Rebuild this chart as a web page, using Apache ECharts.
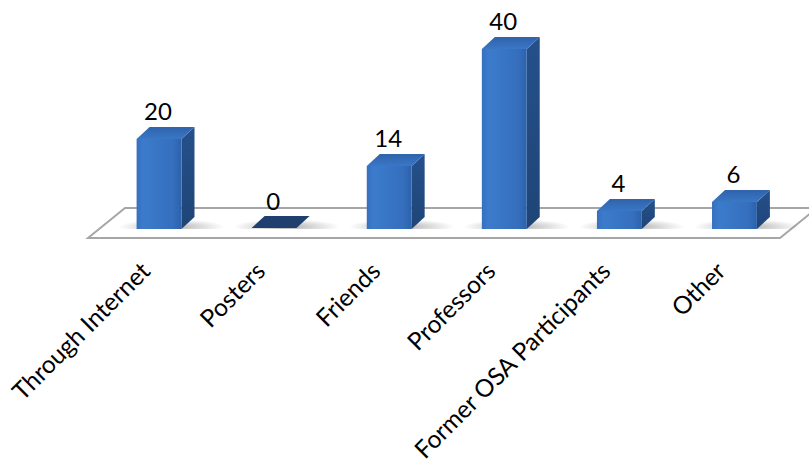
<!DOCTYPE html>
<html>
<head>
<meta charset="utf-8">
<script src="https://cdn.jsdelivr.net/npm/echarts@6/dist/echarts.min.js"></script>
<style>
html,body{margin:0;padding:0;background:#fff;}
#chart{width:809px;height:461px;}
</style>
</head>
<body>
<div id="chart"></div>
<script>
var categories = ['Through Internet', 'Posters', 'Friends', 'Professors', 'Former OSA Participants', 'Other'];
var values = [20, 0, 14, 40, 4, 6];

var DX = 13, DY = -12;
var FONT = 'Lato, "Open Sans", sans-serif';

function renderFloor(params, api) {
  var cs = params.coordSys;
  var x0 = cs.x, x1 = cs.x + cs.width, base = cs.y + cs.height;
  return {
    type: 'polygon',
    shape: { points: [[x0 - 13.5, base + 9], [x0 + 23.5, base - 21], [x1 + 25, base - 21], [x1 - 12, base + 9]] },
    style: { fill: '#ffffff', stroke: '#a6a6a6', lineWidth: 2 }
  };
}

function renderBar(params, api) {
  var idx = api.value(0), val = api.value(1);
  var p0 = api.coord([idx, 0]);
  var p1 = api.coord([idx, val]);
  var w = api.size([1, 0])[0] * 0.39;
  var x = p0[0] - w / 2, base = p0[1], top = p1[1];
  var children = [];
  children.push({
    type: 'rect',
    shape: { x: x - 18, y: base - 15, width: w + DX + 48, height: 15 },
    style: {
      fill: {
        type: 'radial', x: 0.5, y: 0.85, r: 0.5,
        colorStops: [{ offset: 0, color: 'rgba(0,0,0,0.32)' }, { offset: 1, color: 'rgba(0,0,0,0)' }]
      }
    }
  });
  if (val > 0) {
    children.push({
      type: 'polygon',
      shape: { points: [[x + w, base], [x + w, top], [x + w + DX, top + DY], [x + w + DX, base + DY]] },
      style: {
        fill: { type: 'linear', x: 0, y: 0, x2: 0, y2: 1,
          colorStops: [{ offset: 0, color: '#25508a' }, { offset: 1, color: '#1f4577' }] }
      }
    });
    children.push({
      type: 'rect',
      shape: { x: x, y: top, width: w, height: base - top },
      style: {
        fill: { type: 'linear', x: 0, y: 0, x2: 1, y2: 0,
          colorStops: [{ offset: 0, color: '#3670bf' }, { offset: 0.15, color: '#3c7bcc' }, { offset: 0.8, color: '#356fbe' }, { offset: 1, color: '#2d62ab' }] }
      }
    });
    children.push({
      type: 'polygon',
      shape: { points: [[x, top], [x + w, top], [x + w + DX, top + DY], [x + DX, top + DY]] },
      style: {
        fill: { type: 'linear', x: 0, y: 1, x2: 0, y2: 0,
          colorStops: [{ offset: 0, color: '#3a77c6' }, { offset: 1, color: '#2f63ab' }] }
      }
    });
  } else {
    children.push({
      type: 'polygon',
      shape: { points: [[x, base - 1], [x + w, base - 1], [x + w + DX, base - 1 + DY], [x + DX, base - 1 + DY]] },
      style: { fill: '#1f3f6e' }
    });
  }
  // value label
  children.push({
    type: 'text',
    style: {
      text: String(val), x: p0[0] - 1, y: top - 29,
      align: 'center', verticalAlign: 'middle',
      font: '24px ' + FONT, fill: '#000000'
    }
  });
  // category label (rotated 45°)
  children.push({
    type: 'text',
    x: p0[0] - 14, y: base + 37,
    rotation: Math.PI / 4,
    style: {
      text: categories[idx], x: 0, y: 0,
      align: 'right', verticalAlign: 'middle',
      font: '24.5px ' + FONT, fill: '#000000'
    }
  });
  return { type: 'group', children: children };
}

var chart = echarts.init(document.getElementById('chart'), null, { renderer: 'svg' });
chart.setOption({
  animation: false,
  backgroundColor: '#ffffff',
  grid: { left: 101.5, right: 17, top: 4, bottom: 232, containLabel: false, outerBoundsMode: 'none' },
  xAxis: {
    type: 'category',
    data: categories,
    axisLine: { show: false },
    axisTick: { show: false },
    splitLine: { show: false },
    axisLabel: { show: false }
  },
  yAxis: { type: 'value', min: 0, max: 50, show: false, splitLine: { show: false } },
  series: [
    { type: 'custom', renderItem: renderFloor, data: [[0]], z: 1, silent: true, clip: false },
    { type: 'custom', renderItem: renderBar, data: values.map(function (v, i) { return [i, v]; }), z: 2, clip: false,
      encode: { x: 0, y: 1 } }
  ]
});
</script>
</body>
</html>
